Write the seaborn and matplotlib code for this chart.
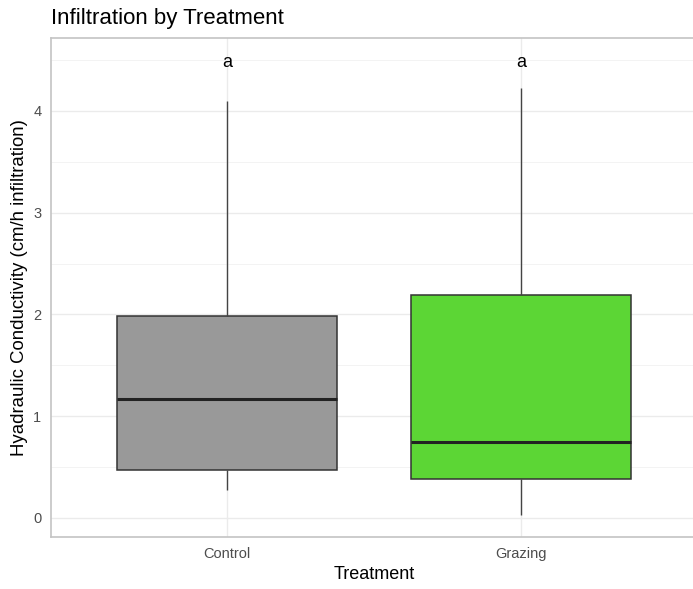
import numpy as np
import pandas as pd
import matplotlib
matplotlib.use("Agg")
import matplotlib.pyplot as plt
import seaborn as sns

# ---- data ----
treatments = ["Control", "Grazing"]
# five-number summaries: min, Q1, median, Q3, max
control_vals = [0.27, 0.475, 1.167, 1.985, 4.10]
grazing_vals = [0.03, 0.38, 0.744, 2.195, 4.23]
fill_colors = ["#999999", "#5CD635"]
letters = ["a", "a"]
letter_y = [4.48, 4.48]

df = pd.DataFrame({
    "Treatment": np.repeat(treatments, 5),
    "K": control_vals + grazing_vals,
})

sns.set_theme(style="white")
plt.rcParams["font.family"] = ["Liberation Sans", "DejaVu Sans"]

fig = plt.figure(figsize=(6.93, 5.89), dpi=100)
ax = fig.add_axes([51/693, 52/589, 646/693, 499/589])

edge = "#333333"
sns.boxplot(data=df, x="Treatment", y="K", hue="Treatment", order=treatments,
            palette=dict(zip(treatments, fill_colors)), legend=False,
            saturation=1, width=0.75, whis=(0, 100), linewidth=1.1,
            linecolor=edge, showfliers=False, showcaps=False,
            whiskerprops=dict(color="#444444", linewidth=1.0),
            medianprops=dict(color="#222222", linewidth=2.2),
            ax=ax, zorder=3)

for i, (lab, yv) in enumerate(zip(letters, letter_y)):
    ax.text(i, yv, lab, ha="center", va="center", fontsize=13, color="black", zorder=4)

ax.set_xlim(-0.6, 1.6)
ax.set_ylim(-0.187, 4.717)
ax.set_yticks([0, 1, 2, 3, 4])
ax.set_yticks([0.5, 1.5, 2.5, 3.5, 4.5], minor=True)
ax.set_xticks([0, 1])
ax.set_xticklabels(treatments)

ax.grid(True, which="major", color="#EBEBEB", linewidth=1.0, zorder=0)
ax.grid(True, which="minor", axis="y", color="#F3F3F3", linewidth=0.7, zorder=0)
ax.set_axisbelow(True)

for s in ax.spines.values():
    s.set_color("#C4C4C4")
    s.set_linewidth(1.2)
ax.spines["right"].set_visible(False)

ax.tick_params(axis="both", which="major", length=3.5, width=0.8, color="#C4C4C4",
               labelsize=10.5, labelcolor="#4D4D4D", pad=3.5)
ax.tick_params(axis="both", which="minor", length=0)

ax.set_xlabel("Treatment", fontsize=13, color="black", labelpad=4)
ax.set_ylabel("Hyadraulic Conductivity (cm/h infiltration)", fontsize=13.4,
              color="black", labelpad=3.5)
ax.set_title("Infiltration by Treatment", loc="left", fontsize=16,
             color="black", pad=10)

fig.savefig("out.png", dpi=100)
